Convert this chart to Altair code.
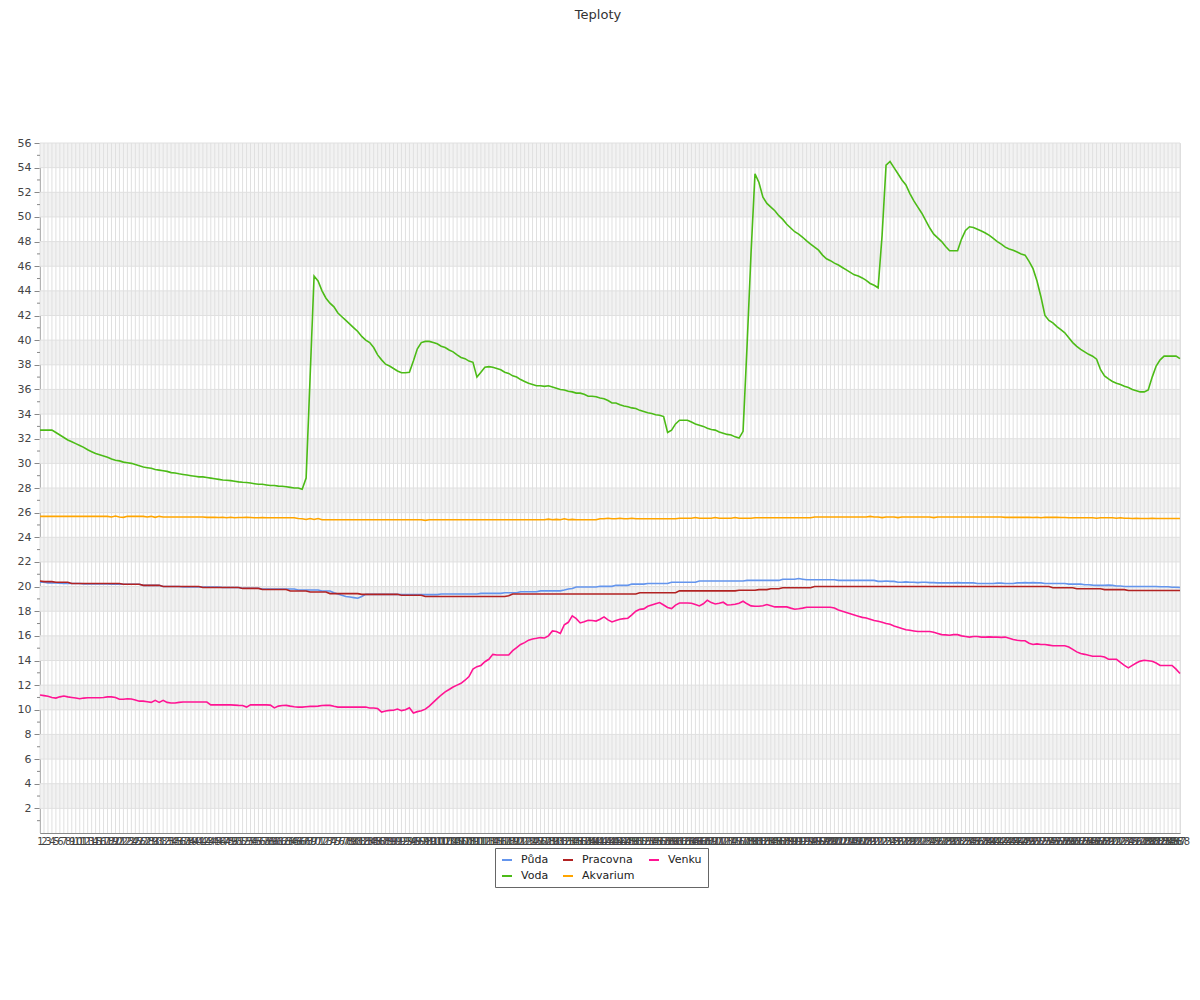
import altair as alt
import pandas as pd

title_text = "Teploty"
series_names = ["Půda", "Voda", "Pracovna", "Akvarium", "Venku"]
series_colors = {"Půda": "#6495ED", "Voda": "#4CBB17", "Pracovna": "#B22222",
                 "Akvarium": "#FFA500", "Venku": "#FF1493"}
legend_order = ["Půda", "Voda", "Pracovna", "Akvarium", "Venku"]

voda = [
    32.7, 32.7, 32.7, 32.7, 32.5, 32.3, 32.1, 31.9, 31.75, 31.6, 31.45, 31.3,
    31.1, 30.95, 30.8, 30.7, 30.6, 30.5, 30.35, 30.25, 30.2, 30.1, 30.05, 30.0,
    29.9, 29.8, 29.7, 29.65, 29.6, 29.5, 29.45, 29.4, 29.35, 29.25, 29.22, 29.15,
    29.1, 29.05, 29.0, 28.95, 28.9, 28.9, 28.85, 28.8, 28.75, 28.7, 28.65, 28.63,
    28.6, 28.55, 28.5, 28.47, 28.45, 28.4, 28.35, 28.3, 28.3, 28.25, 28.2, 28.2,
    28.15, 28.14, 28.1, 28.05, 28.0, 28.0, 27.9, 28.8, 37.0, 45.2, 44.8, 44.0,
    43.4, 43.0, 42.7, 42.2, 41.9, 41.6, 41.3, 41.0, 40.7, 40.3, 40.0, 39.8,
    39.4, 38.8, 38.4, 38.05, 37.9, 37.7, 37.5, 37.35, 37.35, 37.4, 38.3, 39.3,
    39.8, 39.9, 39.9, 39.8, 39.7, 39.5, 39.4, 39.2, 39.05, 38.8, 38.6, 38.5,
    38.3, 38.2, 37.0, 37.4, 37.8, 37.85, 37.8, 37.7, 37.6, 37.4, 37.3, 37.1,
    37.0, 36.8, 36.65, 36.5, 36.4, 36.3, 36.3, 36.25, 36.3, 36.2, 36.1, 36.0,
    35.95, 35.85, 35.8, 35.7, 35.7, 35.6, 35.45, 35.45, 35.4, 35.3, 35.25, 35.1,
    34.9, 34.9, 34.75, 34.65, 34.6, 34.5, 34.45, 34.3, 34.2, 34.1, 34.05, 33.95,
    33.9, 33.8, 32.5, 32.7, 33.2, 33.5, 33.5, 33.5, 33.35, 33.2, 33.1, 33.0,
    32.85, 32.75, 32.7, 32.55, 32.45, 32.35, 32.3, 32.15, 32.05, 32.6, 39.5, 47.0,
    53.5, 52.8, 51.6, 51.1, 50.8, 50.5, 50.1, 49.8, 49.4, 49.1, 48.8, 48.6,
    48.35, 48.05, 47.8, 47.55, 47.3, 46.9, 46.6, 46.45, 46.25, 46.1, 45.9, 45.7,
    45.5, 45.3, 45.2, 45.05, 44.85, 44.6, 44.45, 44.25, 48.5, 54.2, 54.5, 54.0,
    53.5, 53.0, 52.6, 51.9, 51.3, 50.8, 50.3, 49.7, 49.1, 48.6, 48.3, 48.0,
    47.6, 47.25, 47.25, 47.25, 48.2, 48.9, 49.2, 49.15, 49.0, 48.85, 48.7, 48.5,
    48.25, 48.0, 47.8, 47.55, 47.4, 47.3, 47.15, 47.0, 46.9, 46.4, 45.8, 44.8,
    43.5, 42.0, 41.6, 41.4, 41.1, 40.85, 40.6, 40.2, 39.8, 39.5, 39.25, 39.05,
    38.85, 38.7, 38.45, 37.6, 37.1, 36.85, 36.65, 36.5, 36.4, 36.25, 36.15, 36.0,
    35.9, 35.8, 35.8, 35.95, 37.0, 37.9, 38.4, 38.7, 38.7, 38.7, 38.7, 38.5,
]

venku = [
    11.2, 11.15, 11.1, 11.0, 10.95, 11.05, 11.12, 11.05, 11.0, 10.95, 10.9, 10.95,
    10.98, 10.98, 10.98, 10.98, 11.0, 11.05, 11.05, 11.0, 10.85, 10.85, 10.9, 10.87,
    10.8, 10.7, 10.7, 10.65, 10.6, 10.77, 10.6, 10.77, 10.6, 10.55, 10.55, 10.6,
    10.63, 10.63, 10.63, 10.63, 10.63, 10.63, 10.63, 10.4, 10.4, 10.4, 10.4, 10.4,
    10.4, 10.38, 10.36, 10.35, 10.22, 10.4, 10.4, 10.4, 10.4, 10.4, 10.38, 10.15,
    10.3, 10.35, 10.36, 10.3, 10.25, 10.22, 10.22, 10.25, 10.28, 10.28, 10.3, 10.35,
    10.36, 10.36, 10.28, 10.22, 10.22, 10.22, 10.22, 10.22, 10.22, 10.22, 10.22, 10.14,
    10.14, 10.1, 9.82, 9.9, 9.95, 9.96, 10.06, 9.93, 10.0, 10.17, 9.74, 9.85,
    9.92, 10.05, 10.3, 10.6, 10.9, 11.2, 11.45, 11.65, 11.85, 12.0, 12.15, 12.4,
    12.7, 13.3, 13.5, 13.6, 13.9, 14.1, 14.5, 14.45, 14.45, 14.45, 14.45, 14.8,
    15.05, 15.3, 15.45, 15.65, 15.75, 15.8, 15.86, 15.83, 16.0, 16.4, 16.35, 16.2,
    16.9, 17.1, 17.62, 17.4, 17.05, 17.15, 17.27, 17.25, 17.2, 17.35, 17.54, 17.3,
    17.13, 17.25, 17.35, 17.4, 17.43, 17.7, 18.0, 18.15, 18.19, 18.4, 18.5, 18.6,
    18.7, 18.5, 18.3, 18.21, 18.5, 18.67, 18.67, 18.67, 18.65, 18.55, 18.43, 18.6,
    18.89, 18.7, 18.59, 18.65, 18.73, 18.51, 18.53, 18.56, 18.65, 18.81, 18.6, 18.43,
    18.4, 18.4, 18.45, 18.54, 18.45, 18.35, 18.35, 18.35, 18.35, 18.25, 18.16, 18.2,
    18.25, 18.32, 18.32, 18.32, 18.32, 18.32, 18.32, 18.32, 18.26, 18.1, 18.0, 17.9,
    17.8, 17.7, 17.6, 17.5, 17.45, 17.35, 17.25, 17.18, 17.1, 17.0, 16.94, 16.8,
    16.7, 16.59, 16.5, 16.45, 16.4, 16.35, 16.35, 16.35, 16.35, 16.3, 16.2, 16.1,
    16.08, 16.05, 16.1, 16.1, 16.0, 15.95, 15.9, 15.95, 15.95, 15.9, 15.9, 15.92,
    15.9, 15.9, 15.88, 15.9, 15.8, 15.7, 15.64, 15.6, 15.6, 15.4, 15.3, 15.35,
    15.3, 15.3, 15.25, 15.2, 15.2, 15.2, 15.2, 15.1, 14.9, 14.7, 14.56, 14.5,
    14.42, 14.35, 14.35, 14.35, 14.28, 14.1, 14.1, 14.1, 13.85, 13.6, 13.4, 13.6,
    13.8, 13.95, 14.02, 13.98, 13.94, 13.8, 13.6, 13.6, 13.6, 13.6, 13.3, 12.95,
]

puda = [
    20.35, 20.35, 20.3, 20.3, 20.3, 20.28, 20.25, 20.25, 20.25, 20.25, 20.25, 20.22,
    20.22, 20.22, 20.22, 20.22, 20.22, 20.22, 20.19, 20.19, 20.19, 20.19, 20.19, 20.19,
    20.19, 20.19, 20.1, 20.1, 20.1, 20.1, 20.1, 20.0, 20.0, 20.0, 20.0, 20.0,
    19.97, 19.97, 19.97, 19.97, 19.97, 19.97, 19.97, 19.97, 19.97, 19.97, 19.92, 19.92,
    19.92, 19.92, 19.92, 19.86, 19.86, 19.86, 19.86, 19.86, 19.8, 19.8, 19.8, 19.8,
    19.8, 19.8, 19.8, 19.8, 19.8, 19.72, 19.72, 19.72, 19.72, 19.72, 19.72, 19.64,
    19.64, 19.64, 19.5, 19.4, 19.3, 19.2, 19.15, 19.1, 19.05, 19.2, 19.37, 19.37,
    19.37, 19.37, 19.37, 19.37, 19.37, 19.37, 19.37, 19.35, 19.35, 19.35, 19.35, 19.35,
    19.35, 19.35, 19.35, 19.35, 19.35, 19.4, 19.4, 19.4, 19.4, 19.4, 19.4, 19.4,
    19.4, 19.4, 19.4, 19.45, 19.45, 19.45, 19.45, 19.45, 19.45, 19.5, 19.5, 19.5,
    19.5, 19.58, 19.58, 19.58, 19.58, 19.58, 19.65, 19.65, 19.65, 19.65, 19.65, 19.65,
    19.72, 19.8, 19.85, 19.97, 19.97, 19.97, 19.97, 19.97, 19.97, 20.02, 20.02, 20.02,
    20.02, 20.1, 20.1, 20.1, 20.1, 20.2, 20.2, 20.2, 20.2, 20.25, 20.25, 20.25,
    20.25, 20.25, 20.25, 20.35, 20.35, 20.35, 20.35, 20.35, 20.35, 20.35, 20.45, 20.45,
    20.45, 20.45, 20.45, 20.45, 20.45, 20.45, 20.45, 20.45, 20.45, 20.45, 20.5, 20.5,
    20.5, 20.5, 20.5, 20.5, 20.5, 20.5, 20.5, 20.6, 20.6, 20.6, 20.6, 20.65,
    20.6, 20.55, 20.55, 20.55, 20.55, 20.55, 20.55, 20.55, 20.55, 20.5, 20.5, 20.5,
    20.5, 20.5, 20.5, 20.5, 20.5, 20.5, 20.5, 20.42, 20.42, 20.45, 20.42, 20.42,
    20.35, 20.35, 20.38, 20.35, 20.35, 20.32, 20.35, 20.35, 20.32, 20.32, 20.3, 20.3,
    20.3, 20.3, 20.3, 20.32, 20.3, 20.3, 20.3, 20.3, 20.25, 20.25, 20.25, 20.25,
    20.25, 20.28, 20.28, 20.25, 20.25, 20.25, 20.3, 20.3, 20.32, 20.3, 20.32, 20.3,
    20.3, 20.25, 20.25, 20.25, 20.25, 20.25, 20.25, 20.2, 20.2, 20.2, 20.2, 20.15,
    20.15, 20.12, 20.1, 20.1, 20.1, 20.12, 20.1, 20.05, 20.05, 20.0, 20.0, 20.0,
    20.0, 20.0, 20.0, 20.0, 20.0, 20.0, 19.98, 19.98, 19.98, 19.95, 19.95, 19.92,
]

pracovna = [
    20.45, 20.4, 20.4, 20.4, 20.35, 20.35, 20.35, 20.35, 20.25, 20.25, 20.25, 20.25,
    20.25, 20.25, 20.25, 20.25, 20.25, 20.25, 20.25, 20.25, 20.25, 20.19, 20.19, 20.19,
    20.19, 20.19, 20.1, 20.1, 20.1, 20.1, 20.1, 20.0, 20.0, 20.0, 20.0, 20.0,
    20.0, 20.0, 20.0, 20.0, 20.0, 19.92, 19.92, 19.92, 19.92, 19.92, 19.92, 19.92,
    19.92, 19.92, 19.92, 19.85, 19.85, 19.85, 19.85, 19.85, 19.76, 19.76, 19.76, 19.76,
    19.76, 19.76, 19.76, 19.64, 19.64, 19.64, 19.64, 19.64, 19.56, 19.56, 19.56, 19.56,
    19.56, 19.43, 19.43, 19.43, 19.43, 19.43, 19.43, 19.43, 19.43, 19.37, 19.37, 19.37,
    19.37, 19.37, 19.37, 19.37, 19.37, 19.37, 19.37, 19.3, 19.3, 19.3, 19.3, 19.3,
    19.3, 19.2, 19.2, 19.2, 19.2, 19.2, 19.2, 19.2, 19.2, 19.2, 19.2, 19.2,
    19.2, 19.2, 19.2, 19.2, 19.2, 19.2, 19.2, 19.2, 19.2, 19.2, 19.25, 19.4,
    19.4, 19.4, 19.4, 19.4, 19.4, 19.4, 19.4, 19.4, 19.4, 19.4, 19.4, 19.4,
    19.4, 19.4, 19.4, 19.4, 19.4, 19.4, 19.4, 19.4, 19.4, 19.4, 19.4, 19.4,
    19.4, 19.4, 19.4, 19.4, 19.4, 19.4, 19.4, 19.5, 19.5, 19.5, 19.5, 19.5,
    19.5, 19.5, 19.5, 19.5, 19.5, 19.65, 19.65, 19.65, 19.65, 19.65, 19.65, 19.65,
    19.65, 19.65, 19.65, 19.65, 19.65, 19.65, 19.65, 19.65, 19.7, 19.7, 19.7, 19.7,
    19.7, 19.75, 19.75, 19.75, 19.82, 19.82, 19.82, 19.9, 19.9, 19.9, 19.9, 19.9,
    19.9, 19.9, 19.9, 20.0, 20.0, 20.0, 20.0, 20.0, 20.0, 20.0, 20.0, 20.0,
    20.0, 20.0, 20.0, 20.0, 20.0, 20.0, 20.0, 20.0, 20.0, 20.0, 20.0, 20.0,
    20.0, 20.0, 20.0, 20.0, 20.0, 20.0, 20.0, 20.0, 20.0, 20.0, 20.0, 20.0,
    20.0, 20.0, 20.0, 20.0, 20.0, 20.0, 20.0, 20.0, 20.0, 20.0, 20.0, 20.0,
    20.0, 20.0, 20.0, 20.0, 20.0, 20.0, 20.0, 20.0, 20.0, 20.0, 20.0, 20.0,
    20.0, 20.0, 20.0, 19.9, 19.9, 19.9, 19.9, 19.9, 19.9, 19.82, 19.82, 19.82,
    19.82, 19.82, 19.82, 19.82, 19.75, 19.75, 19.75, 19.75, 19.75, 19.75, 19.68, 19.68,
    19.68, 19.68, 19.68, 19.68, 19.68, 19.68, 19.68, 19.68, 19.68, 19.68, 19.68, 19.68,
]

akvarium = [
    25.7, 25.7, 25.7, 25.7, 25.7, 25.7, 25.7, 25.7, 25.7, 25.7, 25.7, 25.7,
    25.7, 25.7, 25.7, 25.7, 25.7, 25.7, 25.65, 25.72, 25.65, 25.62, 25.7, 25.7,
    25.7, 25.7, 25.7, 25.65, 25.7, 25.62, 25.7, 25.65, 25.65, 25.65, 25.65, 25.65,
    25.65, 25.65, 25.65, 25.65, 25.65, 25.65, 25.62, 25.62, 25.62, 25.6, 25.62, 25.58,
    25.62, 25.58, 25.6, 25.6, 25.62, 25.6, 25.58, 25.58, 25.6, 25.58, 25.58, 25.58,
    25.58, 25.58, 25.58, 25.58, 25.58, 25.52, 25.5, 25.45, 25.52, 25.45, 25.52, 25.42,
    25.42, 25.42, 25.42, 25.42, 25.42, 25.42, 25.42, 25.42, 25.42, 25.42, 25.42, 25.42,
    25.42, 25.42, 25.42, 25.42, 25.42, 25.42, 25.42, 25.42, 25.42, 25.42, 25.42, 25.42,
    25.42, 25.37, 25.42, 25.42, 25.42, 25.42, 25.42, 25.42, 25.42, 25.42, 25.42, 25.42,
    25.42, 25.42, 25.42, 25.42, 25.42, 25.42, 25.42, 25.42, 25.42, 25.42, 25.42, 25.42,
    25.42, 25.42, 25.42, 25.42, 25.42, 25.42, 25.42, 25.42, 25.47, 25.42, 25.45, 25.42,
    25.5, 25.42, 25.45, 25.42, 25.42, 25.42, 25.42, 25.42, 25.42, 25.5, 25.5, 25.55,
    25.5, 25.5, 25.55, 25.5, 25.5, 25.55, 25.5, 25.5, 25.5, 25.5, 25.5, 25.5,
    25.5, 25.5, 25.5, 25.5, 25.5, 25.55, 25.55, 25.55, 25.55, 25.6, 25.55, 25.55,
    25.55, 25.55, 25.6, 25.55, 25.55, 25.55, 25.55, 25.6, 25.55, 25.55, 25.55, 25.55,
    25.58, 25.58, 25.58, 25.58, 25.58, 25.58, 25.58, 25.58, 25.58, 25.58, 25.58, 25.58,
    25.58, 25.58, 25.58, 25.65, 25.65, 25.65, 25.65, 25.65, 25.65, 25.65, 25.65, 25.65,
    25.65, 25.65, 25.65, 25.65, 25.65, 25.7, 25.65, 25.65, 25.6, 25.65, 25.65, 25.65,
    25.6, 25.65, 25.65, 25.65, 25.65, 25.65, 25.65, 25.65, 25.65, 25.6, 25.65, 25.65,
    25.65, 25.65, 25.65, 25.65, 25.65, 25.65, 25.65, 25.65, 25.65, 25.65, 25.65, 25.65,
    25.65, 25.65, 25.65, 25.62, 25.62, 25.62, 25.62, 25.62, 25.62, 25.62, 25.6, 25.62,
    25.58, 25.62, 25.62, 25.62, 25.62, 25.6, 25.6, 25.58, 25.58, 25.58, 25.58, 25.58,
    25.58, 25.58, 25.55, 25.58, 25.58, 25.58, 25.58, 25.55, 25.58, 25.55, 25.55, 25.52,
    25.55, 25.52, 25.52, 25.52, 25.55, 25.52, 25.52, 25.52, 25.52, 25.52, 25.52, 25.52,
]

x_labels = [str(i) for i in range(1, len(voda) + 1)]
y_major = list(range(2, 57, 2))
y_minor = list(range(1, 56, 2))
band_starts = list(range(2, 56, 4))

values = {"Půda": puda, "Voda": voda, "Pracovna": pracovna,
          "Akvarium": akvarium, "Venku": venku}

rows = []
for name in series_names:
    for lab, v in zip(x_labels, values[name]):
        rows.append({"t": lab, "v": v, "s": name})
df = pd.DataFrame(rows)

W, H = 1140, 690
font = "DejaVu Sans"
axis_gray = "#888888"
grid_gray = "#e0e0e0"

y_scale = alt.Scale(domain=[0, 56], nice=False, zero=True)
x_scale = alt.Scale(type="point", padding=0)
x_axis = alt.Axis(labelAngle=0, labelOverlap=False, ticks=False, grid=False,
                  domainColor=axis_gray, labelFontSize=10, labelColor="#444444",
                  labelFont=font, labelPadding=3, title=None)
y_axis = alt.Axis(values=y_major, grid=False, tickSize=6, tickColor=axis_gray,
                  domainColor=axis_gray, labelFontSize=11, labelColor="#444444",
                  labelFont=font, labelPadding=3, title=None)

bands = alt.Chart(pd.DataFrame({"b": band_starts, "b2": [b + 2 for b in band_starts]})).mark_rect(
    color="#f2f2f2").encode(
    x=alt.value(0), x2=alt.value(W),
    y=alt.Y("b:Q", scale=y_scale, axis=y_axis), y2="b2:Q")

hgrid = alt.Chart(pd.DataFrame({"g": y_major})).mark_rule(color=grid_gray, strokeWidth=1).encode(
    y=alt.Y("g:Q", scale=y_scale, axis=y_axis))

vgrid = alt.Chart(pd.DataFrame({"t": x_labels})).mark_rule(color=grid_gray, strokeWidth=1).encode(
    x=alt.X("t:O", sort=x_labels, scale=x_scale, axis=x_axis))

minor = alt.Chart(pd.DataFrame({"m": y_minor})).mark_rule(color=axis_gray, strokeWidth=1).encode(
    y=alt.Y("m:Q", scale=y_scale, axis=y_axis), x=alt.value(-3), x2=alt.value(0))

color_enc = alt.Color("s:N", scale=alt.Scale(domain=legend_order,
                                             range=[series_colors[n] for n in legend_order]),
                      legend=alt.Legend(orient="none", legendX=455, legendY=705, columns=3,
                                        title=None, symbolType="stroke", symbolStrokeWidth=2,
                                        symbolSize=100, labelFontSize=11, labelFont=font,
                                        labelColor="#222222", strokeColor="#666666",
                                        fillColor="white", padding=6, columnPadding=10,
                                        rowPadding=5, labelOffset=8))

line_layers = []
for name in series_names:
    line_layers.append(
        alt.Chart(df).transform_filter(alt.datum.s == name).mark_line(strokeWidth=1.6).encode(
            x=alt.X("t:O", sort=x_labels, scale=x_scale, axis=x_axis),
            y=alt.Y("v:Q", scale=y_scale, axis=y_axis),
            color=color_enc))

chart = alt.layer(bands, vgrid, hgrid, minor, *line_layers).properties(
    width=W, height=H,
    title=alt.TitleParams(title_text, anchor="middle", fontSize=13, font=font,
                          fontWeight="normal", color="#333333", offset=115, dx=-12),
    autosize=alt.AutoSizeParams(type="none"),
    padding={"left": 32, "top": 135, "right": 12, "bottom": 150},
).configure_view(stroke=None).configure(background="white")

chart.save("out.html", embed_options={"renderer": "svg", "actions": False})
